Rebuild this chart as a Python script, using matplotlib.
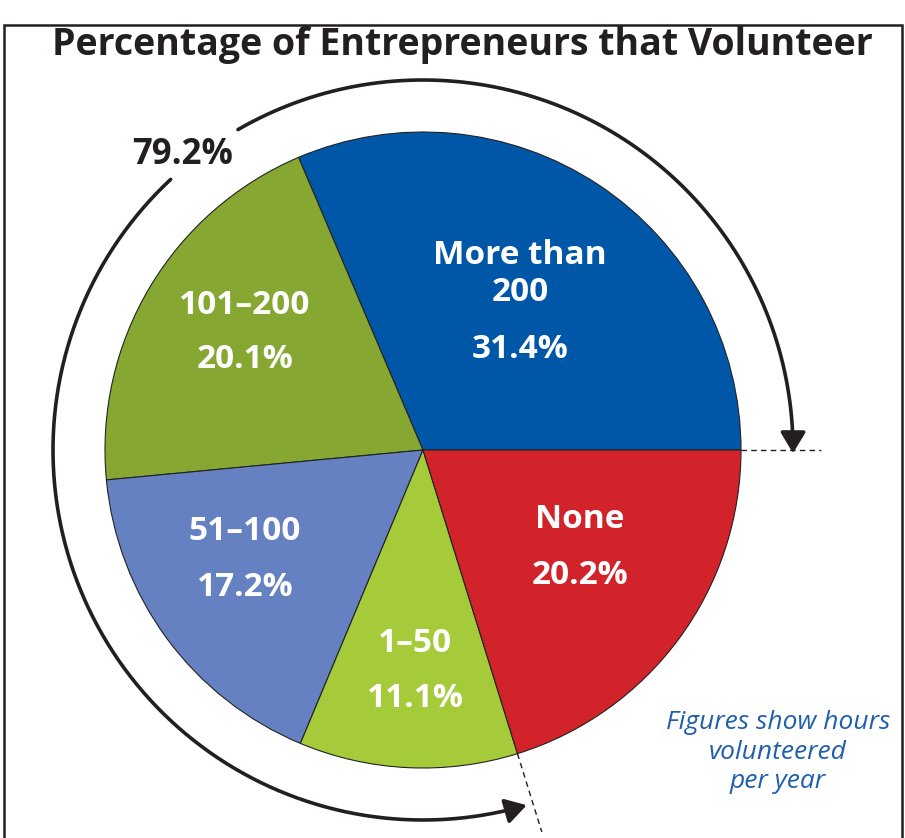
import numpy as np
import matplotlib
matplotlib.use("Agg")
import matplotlib.pyplot as plt
from matplotlib.patches import FancyArrowPatch, Rectangle
from matplotlib.path import Path

# data
labels = ["More than\n200", "101\u2013200", "51\u2013100", "1\u201350", "None"]
shares = [31.4, 20.1, 17.2, 11.1, 20.2]
colors = ["#0057a8", "#86a832", "#6681c2", "#a6cb3a", "#d2232a"]
volunteer_total = "79.2%"
title = "Percentage of Entrepreneurs that Volunteer"
note = "Figures show hours\nvolunteered\nper year"

W, H = 905, 838
fig = plt.figure(figsize=(W / 100, H / 100), dpi=100)
ax = fig.add_axes([0, 0, 1, 1])

plt.rcParams["font.family"] = ["Open Sans", "DejaVu Sans"]

cx, cy, R = 423, H - 450, 318

wedges, _ = ax.pie(shares, colors=colors, startangle=0, counterclock=True,
                   center=(cx, cy), radius=R, frame=True,
                   wedgeprops=dict(edgecolor="#222222", linewidth=0.8))
ax.set_xlim(0, W)
ax.set_ylim(0, H)
ax.set_aspect("equal")
ax.axis("off")

# slice labels (pixel positions)
lab_pos = [(520, 274), (245, 305), (245, 532), (415, 643), (580, 520)]
pct_pos = [(520, 350), (245, 360), (245, 588), (415, 698), (580, 576)]
for lab, s, (lx, ly), (px, py) in zip(labels, shares, lab_pos, pct_pos):
    ax.text(lx, H - ly, lab, color="white", fontsize=24, fontweight="bold",
            ha="center", va="center", linespacing=1.15)
    ax.text(px, H - py, f"{s}%", color="white", fontsize=24, fontweight="bold",
            ha="center", va="center")

# outer arrow arc
Ra = 370
end_ang = sum(shares[:4]) / 100 * 360 - 360      # boundary of None slice, negative
def arc_path(a0, a1):
    t = np.radians(np.linspace(a0, a1, 200))
    pts = np.column_stack([cx + Ra * np.cos(t), cy + Ra * np.sin(t)])
    return Path(pts)

arr_kw = dict(arrowstyle="-|>,head_length=0.75,head_width=0.45", mutation_scale=17,
              color="#231f20", linewidth=2.6)
ax.add_patch(FancyArrowPatch(path=arc_path(120, -0.5), **arr_kw))
ax.add_patch(FancyArrowPatch(path=arc_path(133, 360 + end_ang - 1.0), **arr_kw))
ax.text(183, H - 155, volunteer_total, fontsize=25, fontweight="bold",
        color="#231f20", ha="center", va="center")

# dashed guide lines
ax.plot([cx + R, cx + R + 80], [cy, cy], color="#231f20", lw=1.0, ls=(0, (4, 3)))
t = np.radians(end_ang)
ax.plot([cx + R * np.cos(t), cx + 400 * np.cos(t)],
        [cy + R * np.sin(t), cy + 400 * np.sin(t)],
        color="#231f20", lw=1.0, ls=(0, (4, 3)))

ax.text(W / 2 + 10, H - 45, title, fontsize=27, fontweight="bold",
        color="#231f20", ha="center", va="center")
ax.text(778, H - 752, note, fontsize=19, style="italic", color="#1f5fad",
        ha="center", va="center", linespacing=1.22)

ax.add_patch(Rectangle((4, -10), 898, H - 15, fill=False, edgecolor="#231f20",
                       linewidth=1.8))

fig.savefig("out.png", dpi=100)
